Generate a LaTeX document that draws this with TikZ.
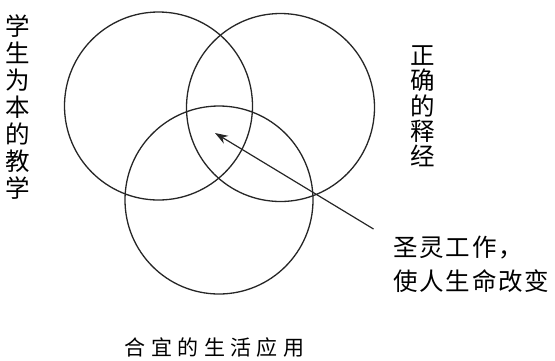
\documentclass[tikz,border=0pt]{standalone}
\usepackage{fontspec}
\newfontfamily\cjk{Noto Sans CJK SC}
\usetikzlibrary{arrows.meta}
\begin{document}
\begin{tikzpicture}[x=1pt,y=-1pt,
  ring/.style={draw=black!85,line width=1.3pt,circle,inner sep=0pt,minimum size=188pt},
  vlabel/.style={inner sep=0pt,align=center,font=\cjk\fontsize{24.5}{#1}\selectfont},
  hlabel/.style={inner sep=0pt,anchor=west,font=\cjk\fontsize{24.5}{28}\selectfont\addfontfeature{LetterSpace=7.5}},
  pointer/.style={draw=black!85,line width=1.2pt,-{Stealth[length=13pt,width=9pt]}}]
\useasboundingbox (0,0) rectangle (555,360);
\node[ring] (left) at (158.5,106) {};
\node[ring] (right) at (280.5,107.5) {};
\node[ring] (bottom) at (219,200) {};
\node[vlabel=27] (lt) at (17.5,107) {学\\生\\为\\本\\的\\教\\学};
\node[vlabel=25.3] (rt) at (423,106.5) {正\\确\\的\\释\\经};
\node[hlabel] (sp1) at (393,248) {圣灵工作，};
\node[hlabel] (sp2) at (393,281) {使人生命改变};
\node[inner sep=0pt,anchor=west,font=\cjk\fontsize{21}{25}\selectfont\addfontfeature{LetterSpace=26}] (app) at (124.5,348) {合宜的生活应用};
\coordinate (tail) at (373.5,229);
\coordinate (tip) at (215,133);
\draw[pointer] (tail) -- (tip);
\end{tikzpicture}
\end{document}
